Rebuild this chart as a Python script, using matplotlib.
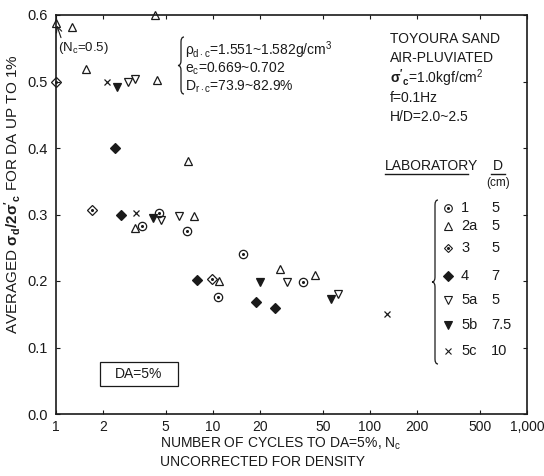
import matplotlib
matplotlib.use("Agg")
import matplotlib.pyplot as plt
from matplotlib.path import Path
from matplotlib.patches import PathPatch, Rectangle
import matplotlib.transforms as mtransforms

plt.rcParams['font.family'] = ['Liberation Sans', 'DejaVu Sans']
plt.rcParams['mathtext.fontset'] = 'custom'
plt.rcParams['mathtext.rm'] = 'Liberation Sans'
plt.rcParams['mathtext.it'] = 'Liberation Sans'
plt.rcParams['mathtext.bf'] = 'Liberation Sans:bold'

INK = '#1a1a1a'

# N_c and averaged stress ratio, per laboratory
lab1_n = [3.55, 4.53, 6.8, 10.8, 15.5, 37.6]
lab1_r = [0.282, 0.303, 0.275, 0.176, 0.240, 0.198]

lab2a_n = [1.0, 1.26, 1.55, 4.27, 4.42, 6.9, 3.19, 7.57, 10.97, 26.7, 44.7]
lab2a_r = [0.588, 0.582, 0.519, 0.600, 0.503, 0.380, 0.279, 0.297, 0.200, 0.218, 0.209]

lab3_n = [1.0, 1.69, 9.81]
lab3_r = [0.500, 0.307, 0.203]

lab4_n = [2.38, 2.58, 7.87, 18.8, 24.8]
lab4_r = [0.400, 0.300, 0.202, 0.169, 0.159]

lab5a_n = [2.89, 3.19, 4.64, 6.07, 29.7, 62.3]
lab5a_r = [0.500, 0.504, 0.292, 0.297, 0.199, 0.180]

lab5b_n = [2.44, 4.13, 19.9, 56.5]
lab5b_r = [0.491, 0.294, 0.198, 0.173]

lab5c_n = [2.10, 3.23, 129]
lab5c_r = [0.500, 0.302, 0.150]

legend_labs = ['1', '2a', '3', '4', '5a', '5b', '5c']
legend_d = ['5', '5', '5', '7', '5', '7.5', '10']

xticks = [1, 2, 5, 10, 20, 50, 100, 200, 500, 1000]
xticklabels = ['1', '2', '5', '10', '20', '50', '100', '200', '500', '1,000']
yticks = [0.0, 0.1, 0.2, 0.3, 0.4, 0.5, 0.6]

W, H = 544, 476
fig = plt.figure(figsize=(W / 100, H / 100), dpi=100)
ax = fig.add_axes([56 / W, 1 - 414 / H, (527 - 56) / W, (414 - 15) / H])

ms = 5.5
kw = dict(linestyle='none', clip_on=False, color=INK, markeredgewidth=0.9)

# lab 1: circle with a dot
ax.plot(lab1_n, lab1_r, marker='o', mfc='none', ms=ms + 0.5, **kw)
ax.plot(lab1_n, lab1_r, marker='o', ms=1.3, **kw)
# lab 2a: open triangle
ax.plot(lab2a_n, lab2a_r, marker='^', mfc='none', ms=ms, **kw)
# lab 3: open diamond with dot
ax.plot(lab3_n, lab3_r, marker='D', mfc='none', ms=ms - 0.5, **kw)
ax.plot(lab3_n, lab3_r, marker='o', ms=1.3, **kw)
# lab 4: filled diamond
ax.plot(lab4_n, lab4_r, marker='D', ms=ms, **kw)
# lab 5a / 5b / 5c
ax.plot(lab5a_n, lab5a_r, marker='v', mfc='none', ms=ms, **kw)
ax.plot(lab5b_n, lab5b_r, marker='v', ms=ms + 0.5, **kw)
ax.plot(lab5c_n, lab5c_r, marker='x', ms=ms - 1.5, **kw)

ax.set_xscale('log')
ax.set_xlim(1, 1000)
ax.set_ylim(0, 0.6)
ax.set_xticks(xticks)
ax.set_xticklabels(xticklabels)
ax.minorticks_off()
ax.set_yticks(yticks)
ax.set_yticklabels([f'{v:.1f}' for v in yticks])
ax.tick_params(direction='in', length=3, width=0.8, labelsize=10.5, colors=INK,
               top=True, right=True, pad=6)
ax.tick_params(axis='x', labelsize=10, pad=4)
for s in ax.spines.values():
    s.set_linewidth(1.2)
    s.set_color(INK)

# pixel transform (from top-left) for annotations
px = mtransforms.Affine2D().scale(1 / W, -1 / H).translate(0, 1) + fig.transFigure

fig.text(13, 194, r"AVERAGED $\mathbf{\sigma_d/2\sigma'_c}$ FOR DA UP TO 1%",
         transform=px, fontsize=11, rotation=90, ha='center', va='center', color=INK)
fig.text(160, 444, "NUMBER OF CYCLES TO DA=5%, N$_c$", transform=px,
         fontsize=10, va='center', color=INK)
fig.text(160, 462, "UNCORRECTED FOR DENSITY", transform=px,
         fontsize=10, va='center', color=INK)


def brace(x, top, bot, w):
    mid = (top + bot) / 2
    d = w * 0.8
    verts = [(x + w, top), (x + w / 2, top), (x + w / 2, top + d),
             (x + w / 2, mid - d), (x + w / 2, mid), (x, mid),
             (x + w / 2, mid), (x + w / 2, mid + d),
             (x + w / 2, bot - d), (x + w / 2, bot), (x + w, bot)]
    codes = [Path.MOVETO, Path.CURVE3, Path.CURVE3, Path.LINETO, Path.CURVE3,
             Path.CURVE3, Path.CURVE3, Path.CURVE3, Path.LINETO, Path.CURVE3,
             Path.CURVE3]
    fig.patches.append(PathPatch(Path(verts, codes), fc='none', ec=INK, lw=0.9,
                                 transform=px))


# (Nc = 0.5) note
fig.text(58, 48, "(N$_c$=0.5)", transform=px, fontsize=9.5, va='center', color=INK)
ax.annotate('', xy=(1.0, 0.588), xytext=(1.09, 0.562),
            arrowprops=dict(arrowstyle='->', lw=0.8, color=INK))

# density block
brace(178, 37, 94, 6)
fig.text(185, 50, r"$\rho_{d\cdot c}$=1.551~1.582g/cm$^3$", transform=px,
         fontsize=10, va='center', color=INK)
fig.text(185, 69, r"e$_c$=0.669~0.702", transform=px, fontsize=10,
         va='center', color=INK)
fig.text(185, 87, r"D$_{r\cdot c}$=73.9~82.9%", transform=px, fontsize=10,
         va='center', color=INK)

# test conditions
cond = ["TOYOURA SAND", "AIR-PLUVIATED", r"$\mathbf{\sigma'_c}$=1.0kgf/cm$^2$",
        "f=0.1Hz", "H/D=2.0~2.5"]
for i, t in enumerate(cond):
    fig.text(390, 39 + i * 19.5, t, transform=px, fontsize=10, va='center', color=INK)

fig.text(385, 166, "LABORATORY", transform=px, fontsize=10, va='center', color=INK)
fig.add_artist(plt.Line2D([385, 468], [174, 174], transform=px, color=INK, lw=1))
fig.text(498, 166, "D", transform=px, fontsize=10, va='center', ha='center', color=INK)
fig.add_artist(plt.Line2D([491, 505], [174, 174], transform=px, color=INK, lw=1))
fig.text(498, 183, "(cm)", transform=px, fontsize=8.5, va='center', ha='center', color=INK)

leg_y = [208, 226, 248, 276, 300, 325, 351]
leg_m = [('o', 'none', ms), ('^', 'none', ms), ('D', 'none', ms - 1),
         ('D', INK, ms - 0.5), ('v', 'none', ms), ('v', INK, ms), ('x', INK, ms - 1.5)]
for lab, d, y, (m, fc, s) in zip(legend_labs, legend_d, leg_y, leg_m):
    fig.add_artist(plt.Line2D([448], [y], transform=px, marker=m, mfc=fc, ms=s,
                              mec=INK, color=INK, mew=0.8, linestyle='none'))
    if lab in ('1', '3'):
        fig.add_artist(plt.Line2D([448], [y], transform=px, marker='o', ms=1.2,
                                  color=INK, linestyle='none'))
    fig.text(461, y, lab, transform=px, fontsize=10.5, va='center', color=INK)
    fig.text(491, y, d, transform=px, fontsize=10.5, va='center', color=INK)
brace(432, 200, 364, 6)

# DA box
fig.patches.append(Rectangle((100, 386), 78, -24, transform=px, fc='none',
                             ec=INK, lw=0.9))
fig.text(139, 374, "DA=5%", transform=px, fontsize=10, ha='center', va='center',
         color=INK)

fig.savefig("out.png", dpi=100)
